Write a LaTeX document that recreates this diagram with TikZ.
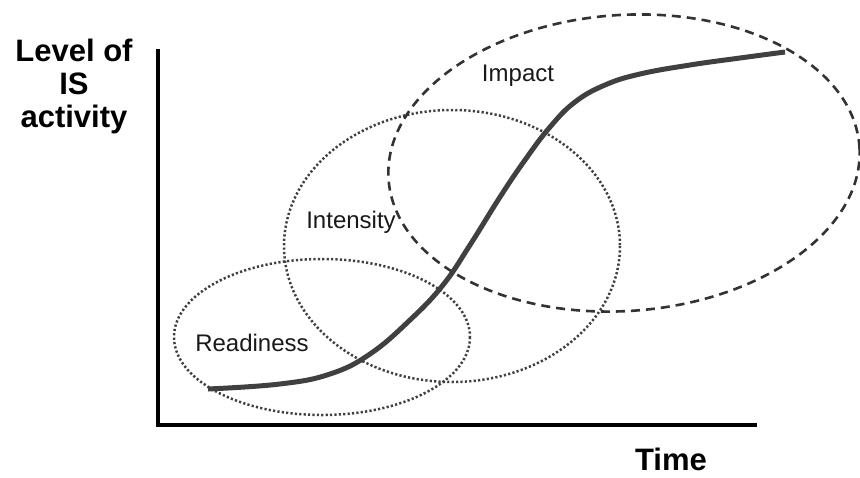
\documentclass[tikz,border=0pt]{standalone}
\usepackage{fontspec}
\setmainfont{Liberation Sans}
\usepackage{xcolor}
\usepackage{tikz}
\usetikzlibrary{positioning,shapes}

\definecolor{curvegray}{HTML}{404040}
\definecolor{ringgray}{HTML}{404040}

\begin{document}
\begin{tikzpicture}[
            x=1pt, y=-1pt,
            axislabel/.style={font=\fontsize{31}{32}\selectfont\bfseries, align=center, inner sep=0pt},
            phaselabel/.style={font=\fontsize{24}{26}\selectfont, text=black!90, inner sep=0pt, anchor=base},
            dotring/.style={draw=ringgray, line width=2.5pt, dash pattern=on 2.2pt off 2.2pt},
            dashring/.style={draw=black!80, line width=2.6pt, dash pattern=on 9pt off 6pt}
        ]
            \useasboundingbox (0,0) rectangle (860,477);
            % Axes
            \coordinate (o) at (158,425);
            \coordinate (ytop) at (158,49);
            \coordinate (xend) at (757,425);
            \draw[line width=3.5pt] (ytop) -- (o) -- (xend);
            % Axis labels
            \node[axislabel, anchor=base] (level) at (74,127) {Level of\\[1pt]IS\\[1pt]activity};
            \node[axislabel, anchor=base] (time) at (671,470) {Time};
            % Phases
            \draw[dotring] (322,337) ellipse [x radius=148, y radius=78]; % readiness
            \draw[dotring] (452,246) ellipse [x radius=168, y radius=136]; % intensity
            \draw[dashring, rotate around={4:(624,163)}] (624,163) ellipse [x radius=236, y radius=148]; % impact
            \node[phaselabel] (readiness) at (252,351) {Readiness};
            \node[phaselabel] (intensity) at (351,228) {Intensity};
            \node[phaselabel] (impact) at (518,81) {Impact};
            % Growth curve
            \draw[curvegray, line width=5pt] plot[smooth, tension=0.7] coordinates {
                (208,389) (280,384) (330,374) (370,354) (410,320) (443,285)
                (470,245) (500,197) (525,160) (550,127) (575,102) (605,85)
                (640,74) (690,65) (740,58) (785,52)};
        \end{tikzpicture}
\end{document}
